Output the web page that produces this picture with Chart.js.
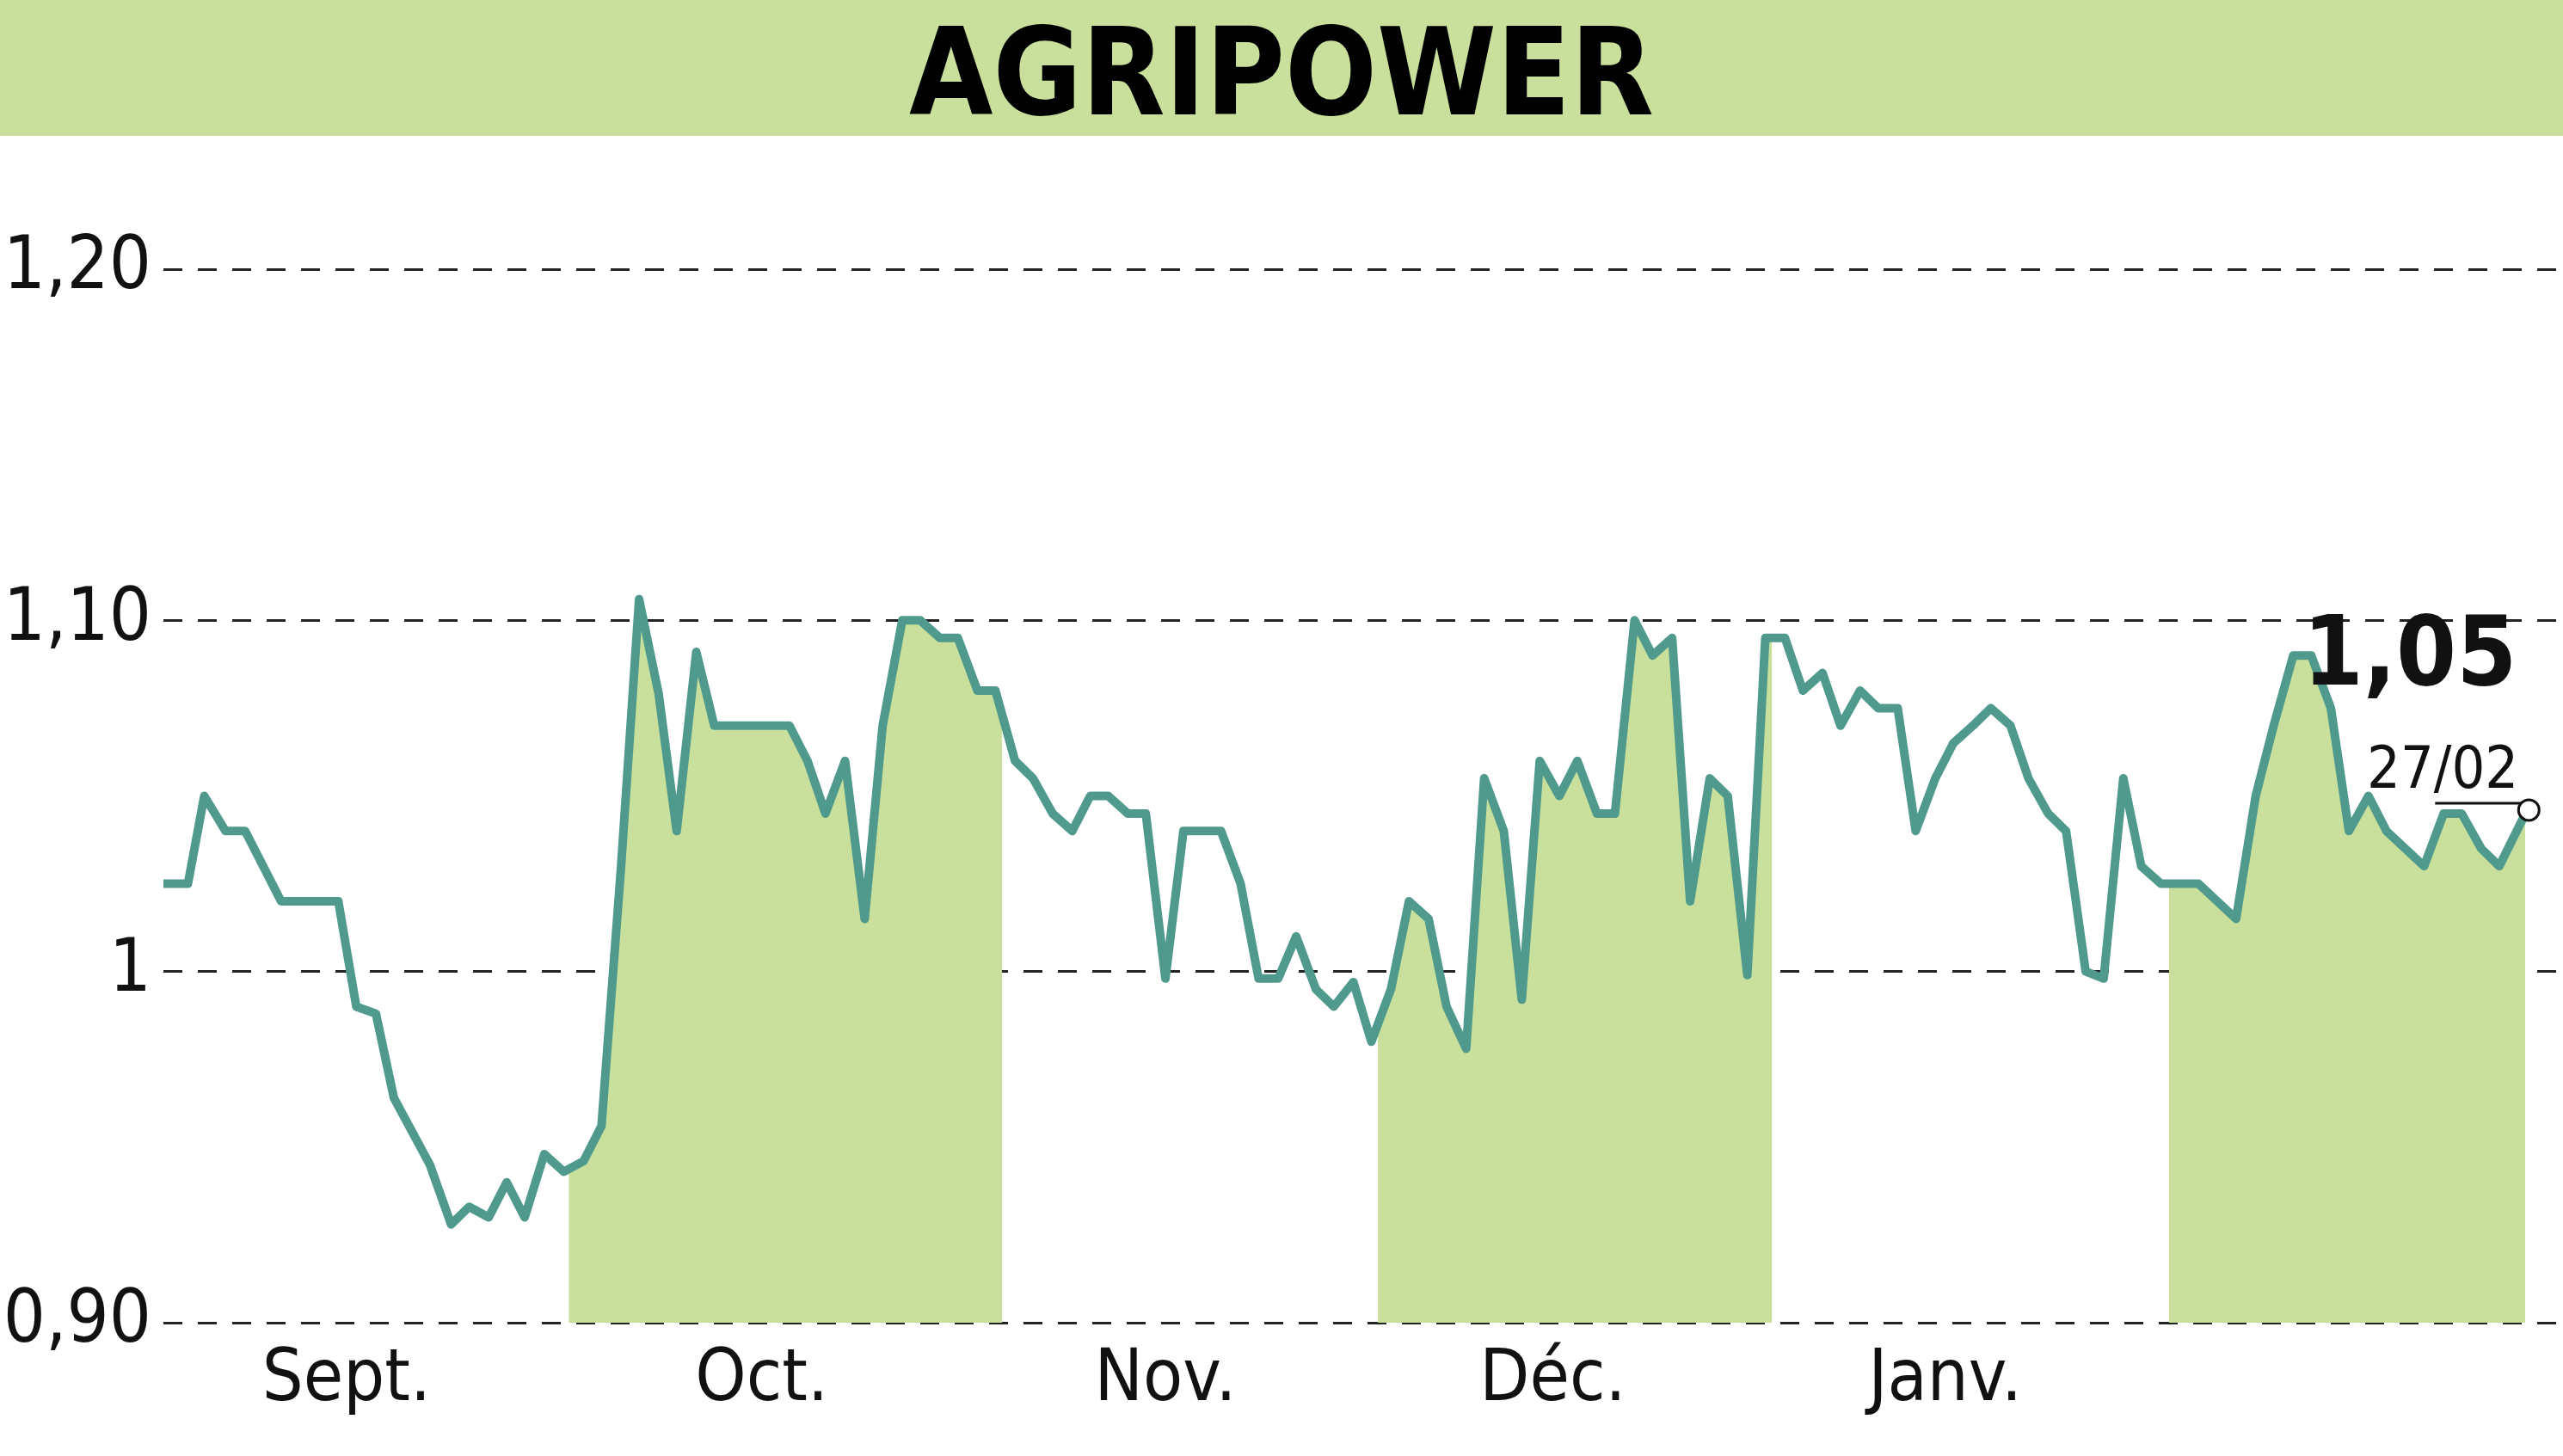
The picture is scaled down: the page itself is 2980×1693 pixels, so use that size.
<!DOCTYPE html>
<html><head><meta charset="utf-8">
<script src="https://cdn.jsdelivr.net/npm/chart.js@4"></script>
<style>
html,body{margin:0;padding:0;background:#fff;width:2980px;height:1693px;overflow:hidden}
#hdr{position:absolute;left:0;top:0;width:2980px;height:158px;background:#c8e09c;text-align:center;
font-family:"Liberation Sans Narrow","DejaVu Sans Condensed",sans-serif;font-weight:bold;font-size:140px;line-height:170px;color:#000;letter-spacing:0px}
#wrap{position:absolute;left:0;top:0;width:2980px;height:1693px}
</style></head><body>
<div id="wrap"><canvas id="c" width="2980" height="1693"></canvas></div>
<div id="hdr">AGRIPOWER</div>
<script>
const positions=[100,115,125,138,150,172,207,218,230,241,263,276,287,299,310,321,333,345,357,368,380,391,403,414,426,437,483,494,505,517,529,540,552,563,575,586,598,609,621,632,644,656,667,678,690,701,713,724,747,759,770,782,793,805,816,828,839,851,862,874,885,897,908,920,931,942,954,965,977,988,1000,1011,1023,1034,1046,1057,1069,1080,1092,1103,1115,1126,1138,1149,1161,1172,1184,1195,1207,1218,1230,1241,1253,1264,1276,1287,1299,1310,1322,1345,1368,1380,1391,1403,1414,1426,1437,1449,1460,1483,1495,1506,1518,1529,1545];
const prices=[1.025,1.025,1.050,1.040,1.040,1.020,1.020,0.990,0.988,0.964,0.945,0.928,0.933,0.930,0.940,0.930,0.948,0.943,0.946,0.956,1.030,1.106,1.079,1.040,1.091,1.070,1.070,1.060,1.045,1.060,1.015,1.070,1.100,1.100,1.095,1.095,1.080,1.080,1.060,1.055,1.045,1.040,1.050,1.050,1.045,1.045,0.998,1.040,1.040,1.025,0.998,0.998,1.010,0.995,0.990,0.997,0.980,0.995,1.020,1.015,0.990,0.978,1.055,1.040,0.992,1.060,1.050,1.060,1.045,1.045,1.100,1.090,1.095,1.020,1.055,1.050,0.999,1.095,1.095,1.080,1.085,1.070,1.080,1.075,1.075,1.040,1.055,1.065,1.070,1.075,1.070,1.055,1.045,1.040,1.000,0.998,1.055,1.030,1.025,1.025,1.015,1.050,1.070,1.090,1.090,1.075,1.040,1.050,1.040,1.030,1.045,1.045,1.035,1.030,1.045];
const monthPos=[212,466,713,950,1190];
const monthLabels=['Sept.','Oct.','Nov.','Déc.','Janv.'];
const bands=[[348,613],[843,1084],[1327,1545]];
const yTicks=[0.9,1.0,1.1,1.2];
const yLabels=['0,90','1','1,10','1,20'];
const lastLabel='1,05', lastDate='27/02';
const FONT='"Liberation Sans Narrow","DejaVu Sans Condensed",sans-serif';

const bandPlugin={id:'bands',beforeDatasetsDraw(ch){
  const {ctx,chartArea:a,scales:{x,y}}=ch;const pts=ch.getDatasetMeta(0).data;
  ctx.save();
  bands.forEach(([s,e])=>{
    ctx.save();ctx.beginPath();ctx.rect(x.getPixelForValue(s),a.top,x.getPixelForValue(e)-x.getPixelForValue(s),a.bottom-a.top);ctx.clip();
    ctx.beginPath();ctx.moveTo(pts[0].x,y.getPixelForValue(0.9));
    pts.forEach(p=>ctx.lineTo(p.x,p.y));
    ctx.lineTo(pts[pts.length-1].x,y.getPixelForValue(0.9));ctx.closePath();
    ctx.fillStyle='#c8e09c';ctx.fill();ctx.restore();
  });
  ctx.restore();
},afterDatasetsDraw(ch){
  const {ctx}=ch;const pts=ch.getDatasetMeta(0).data;const p=pts[pts.length-1];
  ctx.save();ctx.fillStyle='#111';ctx.textAlign='right';
  ctx.font='bold 112px '+FONT;ctx.fillText(lastLabel,p.x-10,p.y-150);
  ctx.font='68px '+FONT;ctx.fillText(lastDate,p.x-8,p.y-30);
  ctx.strokeStyle='#111';ctx.lineWidth=3;ctx.beginPath();ctx.moveTo(p.x-105,p.y-12);ctx.lineTo(p.x,p.y-12);ctx.stroke();
  ctx.beginPath();ctx.arc(p.x+4,p.y-4,12,0,Math.PI*2);ctx.fillStyle='#fff';ctx.fill();ctx.stroke();
  ctx.restore();
}};

new Chart(document.getElementById('c'),{
  type:'line',
  data:{datasets:[{data:positions.map((px,i)=>({x:px,y:prices[i]})),borderColor:'#4f9a8c',borderWidth:10,borderJoinStyle:'round',borderCapStyle:'round',pointRadius:0,tension:0,fill:false}]},
  options:{responsive:false,animation:false,devicePixelRatio:1,
    layout:{padding:{top:313,right:0,left:0,bottom:0}},
    plugins:{legend:{display:false},tooltip:{enabled:false}},
    scales:{
      x:{type:'linear',min:100,max:1568,grid:{display:false},border:{display:false},
        afterBuildTicks(s){s.ticks=monthPos.map(v=>({value:v}));},
        afterFit(s){s.height=155;},
        ticks:{autoSkip:false,maxRotation:0,padding:10,color:'#111',font:{family:FONT,size:84},callback:(v)=>monthLabels[monthPos.indexOf(v)]}},
      y:{min:0.9,max:1.2,
        afterBuildTicks(s){s.ticks=yTicks.map(v=>({value:v}));},
        afterFit(s){s.width=190;},
        grid:{color:'#222',lineWidth:3,drawTicks:false},
        border:{display:false,dash:[22,18]},
        ticks:{padding:14,color:'#111',font:{family:FONT,size:86},callback:(v)=>yLabels[yTicks.findIndex(t=>Math.abs(t-v)<1e-6)]}}
    }},
  plugins:[bandPlugin]
});
</script></body></html>
